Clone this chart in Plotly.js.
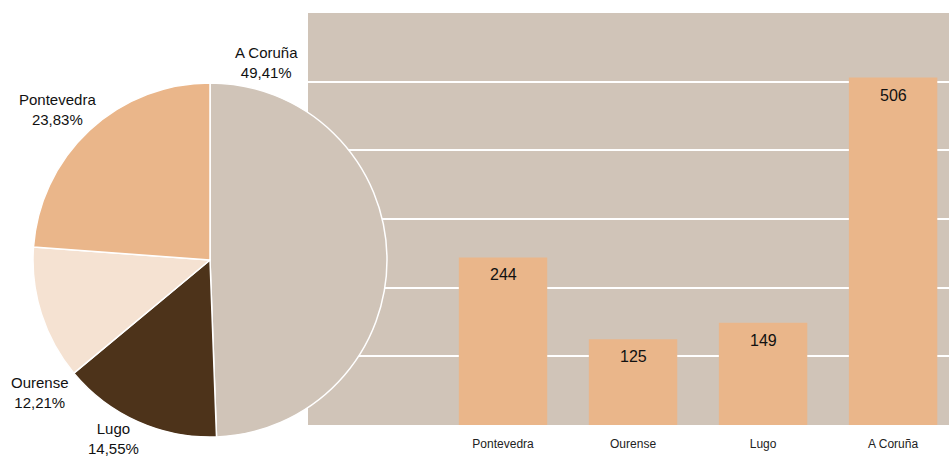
<!DOCTYPE html>
<html>
<head>
<meta charset="utf-8">
<script src="https://cdn.plot.ly/plotly-3.0.1.min.js"></script>
<style>html,body{margin:0;padding:0;background:#fff;}#chart{width:949px;height:458px;}</style>
</head>
<body>
<div id="chart"></div>
<script>
// Bar chart data
const barCategories = ["Pontevedra", "Ourense", "Lugo", "A Coruña"];
const barValues = [244, 125, 149, 506];

// Pie data (clockwise from 12 o'clock)
const pieLabels = ["A Coruña", "Lugo", "Ourense", "Pontevedra"];
const pieValues = [506, 149, 125, 244];
const pieColors = ["#D0C4B8", "#4D331A", "#F5E2D2", "#EAB68A"];

// Label placement for pie labels (paper coords)
const pieLabelPos = {
  "A Coruña":   [0.2813, 0.8646],
  "Lugo":       [0.1191, 0.0415],
  "Ourense":    [0.0421, 0.1441],
  "Pontevedra": [0.0601, 0.7620]
};

const FONT = '"Liberation Sans", Arial, sans-serif';
const total = pieValues.reduce((a, b) => a + b, 0);
const pieAnnotations = pieLabels.map((lab, i) => {
  const pct = (pieValues[i] / total * 100).toFixed(2).replace('.', ',');
  return {
    xref: 'paper', yref: 'paper',
    x: pieLabelPos[lab][0], y: pieLabelPos[lab][1],
    xanchor: 'center', yanchor: 'middle',
    text: lab + '<br>' + pct + '%',
    showarrow: false,
    font: {family: FONT, size: 15, color: '#111'}
  };
});
const barAnnotations = barCategories.map((c, i) => ({
  xref: 'x', yref: 'y',
  x: c, y: barValues[i],
  xanchor: 'center', yanchor: 'top',
  yshift: -7,
  text: String(barValues[i]),
  showarrow: false,
  font: {family: FONT, size: 16, color: '#111'}
}));

const bar = {
  type: 'bar',
  x: barCategories,
  y: barValues,
  textposition: 'none',
  marker: {color: '#EAB68A'},
  width: 0.68,
  hoverinfo: 'none'
};

const pie = {
  type: 'pie',
  labels: pieLabels,
  values: pieValues,
  sort: false,
  direction: 'clockwise',
  rotation: 0,
  marker: {colors: pieColors, line: {color: '#ffffff', width: 1.5}},
  textinfo: 'none',
  hoverinfo: 'none',
  showlegend: false,
  domain: {x: [33/949, 387/949], y: [21/458, 375/458]}
};

const layout = {
  width: 949, height: 458,
  margin: {l: 0, r: 0, t: 0, b: 0, pad: 0},
  paper_bgcolor: '#ffffff',
  plot_bgcolor: '#D0C4B8',
  showlegend: false,
  separators: ',.',
  font: {family: FONT, color: '#222'},
  xaxis: {
    domain: [308/949, 1],
    range: [-1.5, 3.43],
    showgrid: false, zeroline: false, showline: false,
    ticks: '', fixedrange: true,
    ticklabelstandoff: 10,
    tickfont: {family: FONT, size: 12, color: '#222'}
  },
  yaxis: {
    domain: [33/458, 1 - 13/458],
    range: [0, 600],
    dtick: 100,
    showgrid: true, gridcolor: '#ffffff', gridwidth: 2,
    zeroline: false, showline: false,
    showticklabels: false, ticks: '', fixedrange: true
  },
  annotations: pieAnnotations.concat(barAnnotations)
};

Plotly.newPlot('chart', [bar, pie], layout, {displayModeBar: false, staticPlot: true});
</script>
</body>
</html>
